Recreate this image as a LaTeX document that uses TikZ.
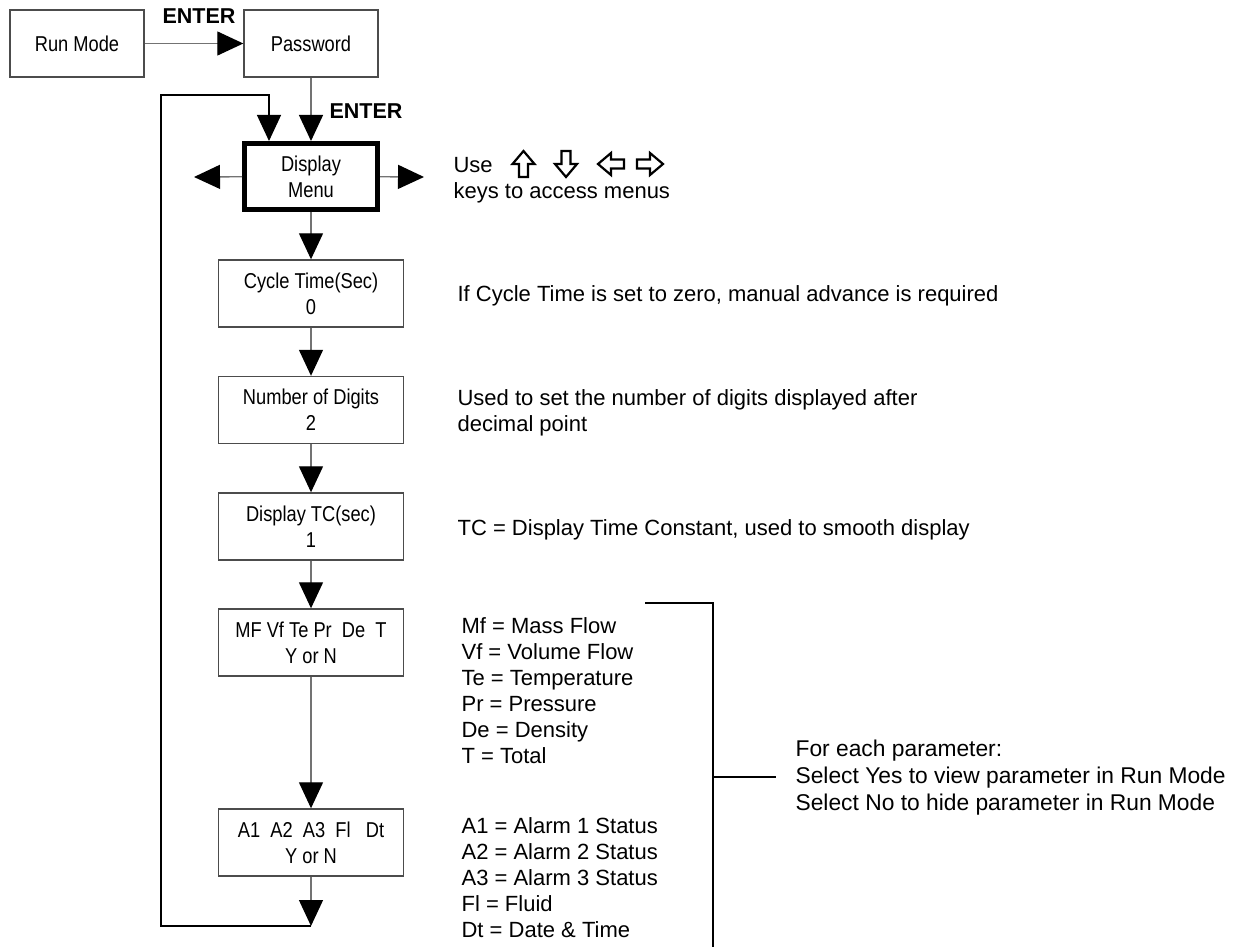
\documentclass[tikz,border=0pt]{standalone}
\usepackage{fontspec}
\setmainfont{Liberation Sans}
\newfontfamily\boxfont{Liberation Sans}[FakeStretch=0.85]
\usetikzlibrary{arrows.meta}
\definecolor{flowgray}{gray}{0.45}
\definecolor{edgegray}{gray}{0.3}

\begin{document}
\begin{tikzpicture}[x=1pt,y=-1pt,line width=1.2pt,
  box/.style={draw=edgegray,line width=1.4pt,inner sep=0pt,align=center,
    minimum height=67pt,font=\boxfont\fontsize{21.5}{26}\selectfont},
  smallbox/.style={box,minimum width=134pt},
  menubox/.style={box,minimum width=185pt},
  dispbox/.style={box,draw=black,line width=5pt,minimum width=133pt,minimum height=66pt},
  flow/.style={draw=flowgray,line width=1.3pt,-{Triangle[length=26pt,width=24pt,color=black]}},
  loopline/.style={draw=black,line width=1.2pt,-{Triangle[length=26pt,width=24pt]}},
  note/.style={inner sep=0pt,align=left,font=\fontsize{22}{26}\selectfont},
  enter/.style={inner sep=0pt,font=\bfseries\fontsize{21.5}{26}\selectfont},
  keyarrow/.pic={\draw[line width=2.2pt,line join=miter]
    (-13,-4.5) -- (0,-4.5) -- (0,-11) -- (13,0) -- (0,11) -- (0,4.5) -- (-13,4.5) -- cycle;}]
\useasboundingbox (0,0) rectangle (1233,947);

% boxes
\node[smallbox] (run) at (77,43.5) {Run Mode};
\node[smallbox] (pass) at (311,43.5) {Password};
\node[dispbox] (disp) at (311,176.5) {Display\\Menu};
\node[menubox] (cyc) at (311,293.5) {Cycle Time(Sec)\\0};
\node[menubox] (dig) at (311,410) {Number of Digits\\2};
\node[menubox] (tc) at (311,526.5) {Display TC(sec)\\1};
\node[menubox] (mf) at (311,642.5) {MF Vf Te Pr~ De~ T\\Y or N};
\node[menubox] (alm) at (311,842.5) {A1~ A2~ A3~ Fl~~ Dt\\Y or N};

\coordinate (dl) at (194,177);
\coordinate (dr) at (424,177);
\coordinate (ret) at (311,926);
\coordinate (corner) at (161,95);

% connectors
\draw[flow] (run) -- (pass);
\draw[flow] (pass) -- (disp);
\draw[flow] (disp) -- (dl);
\draw[flow] (disp) -- (dr);
\draw[flow] (disp) -- (cyc);
\draw[flow] (cyc) -- (dig);
\draw[flow] (dig) -- (tc);
\draw[flow] (tc) -- (mf);
\draw[flow] (mf) -- (alm);
\draw[flow] (alm) -- (ret);
\draw[loopline] (ret) -- (ret -| corner) -- (corner) -| ([xshift=-42pt]disp.north);

\node[enter,anchor=base west] (enter1) at (162,24) {ENTER};
\node[enter,anchor=base west] (enter2) at (329,118) {ENTER};

% notes (base = last line)
\node[note,anchor=base west] (keys) at (453,198) {Use\\keys to access menus};
\pic[rotate=90] at (523.5,164) {keyarrow};
\pic[rotate=-90] at (566,164) {keyarrow};
\pic[rotate=180] at (611,164) {keyarrow};
\pic at (650,164) {keyarrow};
\node[note,anchor=base west] (cycnote) at (457,301) {If Cycle Time is set to zero, manual advance is required};
\node[note,anchor=base west] (dignote) at (457,431) {Used to set the number of digits displayed after\\decimal point};
\node[note,anchor=base west] (tcnote) at (457,535) {TC = Display Time Constant, used to smooth display};
\node[note,anchor=base west] (mfnote) at (461,763) {Mf = Mass Flow\\Vf = Volume Flow\\Te = Temperature\\Pr = Pressure\\De = Density\\T = Total};
\node[note,anchor=base west] (almnote) at (461,937) {A1 = Alarm 1 Status\\A2 = Alarm 2 Status\\A3 = Alarm 3 Status\\Fl = Fluid\\Dt = Date \& Time};
\node[note,anchor=base west,font=\fontsize{22.8}{27}\selectfont] (hint) at (795,810) {For each parameter:\\Select Yes to view parameter in Run Mode\\Select No to hide parameter in Run Mode};

% bracket
\draw[line width=1.2pt] (645,603) -- (713,603) -- (713,947);
\draw[line width=1.2pt] (713,777) -- (776,777);
\end{tikzpicture}
\end{document}
